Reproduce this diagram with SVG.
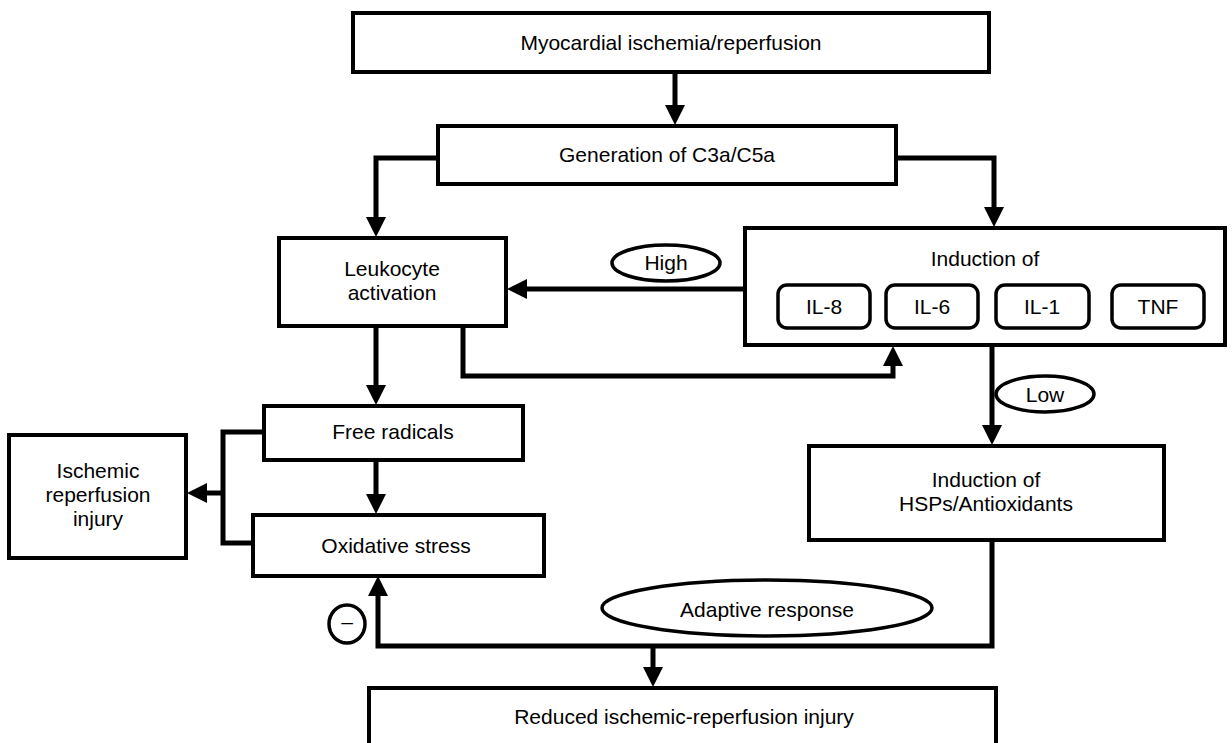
<svg xmlns="http://www.w3.org/2000/svg" width="1232" height="743" viewBox="0 0 1232 743">
<defs>
<style>
.box{fill:#fff;stroke:#000;stroke-width:4}
.pill{fill:#fff;stroke:#000;stroke-width:3.5}
.ell{fill:#fff;stroke:#000;stroke-width:3.5}
.conn{fill:none;stroke:#000;stroke-width:5;stroke-linejoin:miter;stroke-linecap:butt}
text{font-family:"Liberation Sans",Arial,Helvetica,sans-serif;font-size:21px;fill:#000;text-anchor:middle}
</style>
<marker id="ah" markerUnits="userSpaceOnUse" markerWidth="22" markerHeight="22" refX="10" refY="10" orient="auto">
<path d="M0,0 L20,10 L0,20 z" fill="#000"/>
</marker>
</defs>
<rect width="1232" height="743" fill="#fff"/>
<g id="connectors">
<path class="conn" d="M675,73 V115" marker-end="url(#ah)"/>
<path class="conn" d="M436,158 H376 V227" marker-end="url(#ah)"/>
<path class="conn" d="M898,158 H994 V217" marker-end="url(#ah)"/>
<path class="conn" d="M744,289 H517" marker-end="url(#ah)"/>
<path class="conn" d="M463,327 V376 H893 V356" marker-end="url(#ah)"/>
<path class="conn" d="M376,327 V395" marker-end="url(#ah)"/>
<path class="conn" d="M376,461 V504" marker-end="url(#ah)"/>
<path class="conn" d="M263,432 H223 V543 H252"/>
<path class="conn" d="M223,493 H197" marker-end="url(#ah)"/>
<path class="conn" d="M992,346 V435" marker-end="url(#ah)"/>
<path class="conn" d="M992,541 V646 H378 V586" marker-end="url(#ah)"/>
<path class="conn" d="M653,646 V677" marker-end="url(#ah)"/>
</g>
<g id="n-top"><rect class="box" x="353" y="13" width="636" height="59"/><text x="671" y="50">Myocardial ischemia/reperfusion</text></g>
<g id="n-gen"><rect class="box" x="438" y="126" width="458" height="58"/><text x="667" y="162">Generation of C3a/C5a</text></g>
<g id="n-leuk"><rect class="box" x="279" y="238" width="227" height="88"/><text x="392" y="276">Leukocyte</text><text x="392" y="300">activation</text></g>
<g id="n-high"><ellipse class="ell" cx="666" cy="263" rx="54" ry="18"/><text x="666" y="270">High</text></g>
<g id="n-ind">
<rect class="box" x="745" y="228" width="480" height="117"/>
<text x="985" y="266">Induction of</text>
<g id="n-il8"><rect class="pill" x="778" y="285" width="92" height="43" rx="9"/><text x="824" y="314">IL-8</text></g>
<g id="n-il6"><rect class="pill" x="886" y="285" width="92" height="43" rx="9"/><text x="932" y="314">IL-6</text></g>
<g id="n-il1"><rect class="pill" x="996" y="285" width="93" height="43" rx="9"/><text x="1042" y="314">IL-1</text></g>
<g id="n-tnf"><rect class="pill" x="1112" y="285" width="92" height="43" rx="9"/><text x="1158" y="314">TNF</text></g>
</g>
<g id="n-low"><ellipse class="ell" cx="1045" cy="394" rx="49" ry="18"/><text x="1045" y="402">Low</text></g>
<g id="n-free"><rect class="box" x="264" y="406" width="259" height="54"/><text x="393" y="439">Free radicals</text></g>
<g id="n-ox"><rect class="box" x="253" y="515" width="291" height="61"/><text x="396" y="553">Oxidative stress</text></g>
<g id="n-isch"><rect class="box" x="9" y="435" width="177" height="123"/><text x="98" y="478">Ischemic</text><text x="98" y="502">reperfusion</text><text x="98" y="526">injury</text></g>
<g id="n-hsp"><rect class="box" x="809" y="446" width="355" height="94"/><text x="986" y="487">Induction of</text><text x="986" y="511">HSPs/Antioxidants</text></g>
<g id="n-adapt"><ellipse class="ell" cx="767" cy="608" rx="165" ry="28"/><text x="767" y="617">Adaptive response</text></g>
<g id="n-minus"><ellipse class="ell" cx="347" cy="624" rx="18" ry="19"/><text x="347" y="629">–</text></g>
<g id="n-reduced"><rect class="box" x="369" y="688" width="627" height="70"/><text x="684" y="724">Reduced ischemic-reperfusion injury</text></g>
</svg>
